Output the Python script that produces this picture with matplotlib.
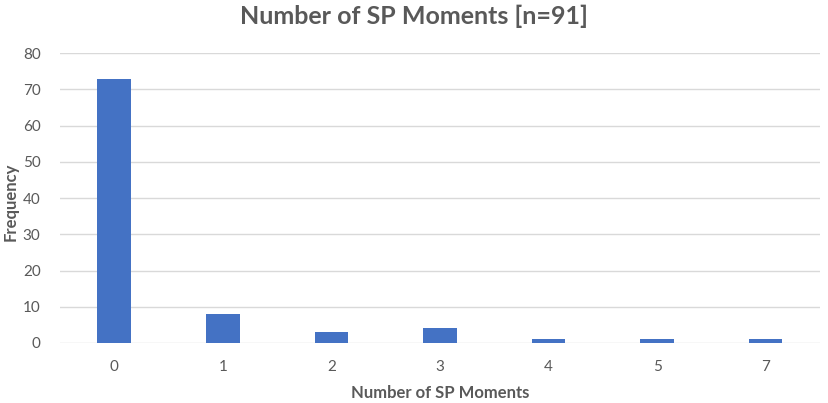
import numpy as np
import matplotlib.pyplot as plt

categories = ['0', '1', '2', '3', '4', '5', '7']
frequency = [73, 8, 3, 4, 1, 1, 1]
y_ticks = [0, 10, 20, 30, 40, 50, 60, 70, 80]

plt.rcParams['font.family'] = ['Lato', 'DejaVu Sans']
text_color = '#595959'

fig = plt.figure(figsize=(8.29, 4.03), dpi=100)
ax = fig.add_axes([0.0724, 0.149, 0.9166, 0.719])

x = np.arange(len(categories))
ax.bar(x, frequency, width=0.31, color='#4472C4', zorder=3)

ax.set_xlim(-0.5, len(categories) - 0.5)
ax.set_ylim(0, 80)
ax.set_yticks(y_ticks)
ax.set_xticks(x)
ax.set_xticklabels(categories)
ax.yaxis.grid(True, color='#d9d9d9', linewidth=1, zorder=0)
ax.tick_params(axis='both', length=0, colors=text_color, labelsize=11)
ax.tick_params(axis='x', pad=12)
ax.tick_params(axis='y', pad=14)
for s in ax.spines.values():
    s.set_visible(False)

ax.set_xlabel('Number of SP Moments', fontsize=12, fontweight='bold', color=text_color, labelpad=8)
# y label placed by hand so it stays inside the figure
fig.text(0.013, 0.5, 'Frequency', rotation=90, ha='center', va='center',
         fontsize=12, fontweight='bold', color=text_color)
fig.text(0.5, 0.96, 'Number of SP Moments [n=91]', ha='center', va='center',
         fontsize=18, fontweight='bold', color=text_color)

fig.savefig('out.png', dpi=100)
